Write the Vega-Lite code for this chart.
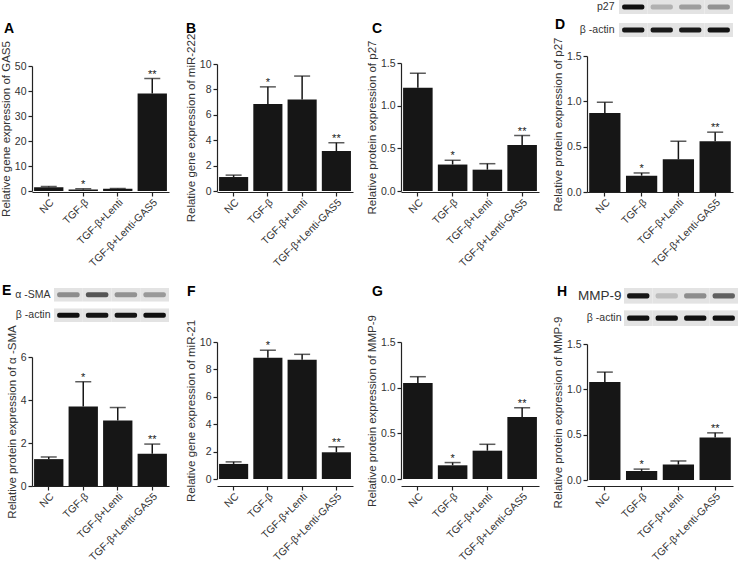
{
  "$schema": "https://vega.github.io/schema/vega-lite/v6.json",
  "padding": 0,
  "datasets": {
    "A": [
      {"g": "NC", "m": 1.5, "u": 1.8, "s": ""},
      {"g": "TGF-β", "m": 0.6, "u": 0.9, "s": "*"},
      {"g": "TGF-β+Lenti", "m": 0.9, "u": 1.0, "s": ""},
      {"g": "TGF-β+Lenti-GAS5", "m": 39, "u": 45, "s": "**"}
    ],
    "B": [
      {"g": "NC", "m": 1.1, "u": 1.25, "s": ""},
      {"g": "TGF-β", "m": 6.85, "u": 8.2, "s": "*"},
      {"g": "TGF-β+Lenti", "m": 7.2, "u": 9.05, "s": ""},
      {"g": "TGF-β+Lenti-GAS5", "m": 3.15, "u": 3.8, "s": "**"}
    ],
    "C": [
      {"g": "NC", "m": 1.21, "u": 1.38, "s": ""},
      {"g": "TGF-β", "m": 0.31, "u": 0.36, "s": "*"},
      {"g": "TGF-β+Lenti", "m": 0.25, "u": 0.32, "s": ""},
      {"g": "TGF-β+Lenti-GAS5", "m": 0.54, "u": 0.65, "s": "**"}
    ],
    "D": [
      {"g": "NC", "m": 0.87, "u": 0.99, "s": ""},
      {"g": "TGF-β", "m": 0.18, "u": 0.21, "s": "*"},
      {"g": "TGF-β+Lenti", "m": 0.36, "u": 0.56, "s": ""},
      {"g": "TGF-β+Lenti-GAS5", "m": 0.56, "u": 0.66, "s": "**"}
    ],
    "E": [
      {"g": "NC", "m": 1.25, "u": 1.35, "s": ""},
      {"g": "TGF-β", "m": 3.7, "u": 4.85, "s": "*"},
      {"g": "TGF-β+Lenti", "m": 3.05, "u": 3.65, "s": ""},
      {"g": "TGF-β+Lenti-GAS5", "m": 1.5, "u": 1.95, "s": "**"}
    ],
    "F": [
      {"g": "NC", "m": 1.1, "u": 1.25, "s": ""},
      {"g": "TGF-β", "m": 8.85, "u": 9.4, "s": "*"},
      {"g": "TGF-β+Lenti", "m": 8.7, "u": 9.1, "s": ""},
      {"g": "TGF-β+Lenti-GAS5", "m": 1.95, "u": 2.35, "s": "**"}
    ],
    "G": [
      {"g": "NC", "m": 1.05, "u": 1.12, "s": ""},
      {"g": "TGF-β", "m": 0.15, "u": 0.18, "s": "*"},
      {"g": "TGF-β+Lenti", "m": 0.31, "u": 0.38, "s": ""},
      {"g": "TGF-β+Lenti-GAS5", "m": 0.68, "u": 0.78, "s": "**"}
    ],
    "H": [
      {"g": "NC", "m": 1.08, "u": 1.19, "s": ""},
      {"g": "TGF-β", "m": 0.1, "u": 0.12, "s": "*"},
      {"g": "TGF-β+Lenti", "m": 0.17, "u": 0.21, "s": ""},
      {"g": "TGF-β+Lenti-GAS5", "m": 0.47, "u": 0.52, "s": "**"}
    ],
    "blotD": [
      {"row": "p27", "lane": "NC", "v": 0.95},
      {"row": "p27", "lane": "TGF-β", "v": 0.2},
      {"row": "p27", "lane": "TGF-β+Lenti", "v": 0.28},
      {"row": "p27", "lane": "TGF-β+Lenti-GAS5", "v": 0.33},
      {"row": "β -actin", "lane": "NC", "v": 0.92},
      {"row": "β -actin", "lane": "TGF-β", "v": 0.9},
      {"row": "β -actin", "lane": "TGF-β+Lenti", "v": 0.9},
      {"row": "β -actin", "lane": "TGF-β+Lenti-GAS5", "v": 0.93}
    ],
    "blotE": [
      {"row": "α -SMA", "lane": "NC", "v": 0.35},
      {"row": "α -SMA", "lane": "TGF-β", "v": 0.6},
      {"row": "α -SMA", "lane": "TGF-β+Lenti", "v": 0.33},
      {"row": "α -SMA", "lane": "TGF-β+Lenti-GAS5", "v": 0.3},
      {"row": "β -actin", "lane": "NC", "v": 0.95},
      {"row": "β -actin", "lane": "TGF-β", "v": 0.93},
      {"row": "β -actin", "lane": "TGF-β+Lenti", "v": 0.93},
      {"row": "β -actin", "lane": "TGF-β+Lenti-GAS5", "v": 0.95}
    ],
    "blotH": [
      {"row": "MMP-9", "lane": "NC", "v": 0.92},
      {"row": "MMP-9", "lane": "TGF-β", "v": 0.15},
      {"row": "MMP-9", "lane": "TGF-β+Lenti", "v": 0.35},
      {"row": "MMP-9", "lane": "TGF-β+Lenti-GAS5", "v": 0.55},
      {"row": "β -actin", "lane": "NC", "v": 0.95},
      {"row": "β -actin", "lane": "TGF-β", "v": 0.95},
      {"row": "β -actin", "lane": "TGF-β+Lenti", "v": 0.95},
      {"row": "β -actin", "lane": "TGF-β+Lenti-GAS5", "v": 0.95}
    ]
  },
  "concat": [
    {"width": 137, "height": 56, "title": {"text": "A", "dx": -28, "offset": -36}, "data": {"values": []}, "mark": "point"},
    {"width": 136, "height": 56, "title": {"text": "B", "dx": -31, "offset": -36}, "data": {"values": []}, "mark": "point"},
    {"width": 138, "height": 56, "title": {"text": "C", "dx": -29, "offset": -36}, "data": {"values": []}, "mark": "point"},
    {
      "width": 146, "height": 56,
      "title": {"text": "D", "dx": -32, "offset": -32},
      "data": {"name": "blotD"},
      "encoding": {
        "x": {"field": "lane", "type": "nominal", "sort": null, "scale": {"range": [32, 146], "paddingInner": 0, "paddingOuter": 0}, "axis": null},
        "y": {"field": "row", "type": "nominal", "sort": null, "scale": {"range": [0, 37], "paddingInner": 0.39, "paddingOuter": 0}, "axis": {"title": null, "domain": false, "ticks": false, "offset": -32, "labelPadding": 5, "labelFontSize": 10.5, "labelColor": "#333"}}
      },
      "layer": [
        {"mark": {"type": "rect", "color": "#e3e3e3"}},
        {"mark": {"type": "bar", "width": {"band": 0.78}, "height": {"band": 0.36}, "cornerRadius": 2}, "encoding": {"color": {"field": "v", "type": "quantitative", "scale": {"domain": [0, 1], "range": ["#e3e3e3", "#000000"]}, "legend": null}}}
      ]
    },
    {
      "width": 137, "height": 136,
      "data": {"name": "A"},
      "encoding": {
        "x": {"field": "g", "type": "nominal", "sort": null, "scale": {"paddingInner": 0.15, "paddingOuter": 0.06}},
        "y": {"field": "m", "type": "quantitative", "scale": {"domain": [0, 50], "nice": false, "range": [135, 10]}, "axis": {"tickCount": 5, "format": "d", "labelOverlap": false, "title": "Relative gene expression of GAS5"}}
      },
      "layer": [
        {"mark": {"type": "bar", "color": "#161616"}},
        {"mark": {"type": "rule", "color": "#161616", "strokeWidth": 1.5}, "encoding": {"y2": {"field": "u"}}},
        {"mark": {"type": "tick", "color": "#161616", "size": 16, "thickness": 1.5, "orient": "horizontal"}, "encoding": {"y": {"field": "u", "type": "quantitative"}}},
        {"mark": {"type": "text", "fontSize": 11, "baseline": "alphabetic", "dy": -1, "color": "#161616"}, "encoding": {"y": {"field": "u", "type": "quantitative"}, "text": {"field": "s"}}}
      ]
    },
    {
      "width": 136, "height": 136,
      "data": {"name": "B"},
      "encoding": {
        "x": {"field": "g", "type": "nominal", "sort": null, "scale": {"paddingInner": 0.15, "paddingOuter": 0.06}},
        "y": {"field": "m", "type": "quantitative", "scale": {"domain": [0, 10], "nice": false, "range": [135, 8]}, "axis": {"tickCount": 5, "format": "d", "labelOverlap": false, "title": "Relative gene expression of miR-222"}}
      },
      "layer": [
        {"mark": {"type": "bar", "color": "#161616"}},
        {"mark": {"type": "rule", "color": "#161616", "strokeWidth": 1.5}, "encoding": {"y2": {"field": "u"}}},
        {"mark": {"type": "tick", "color": "#161616", "size": 16, "thickness": 1.5, "orient": "horizontal"}, "encoding": {"y": {"field": "u", "type": "quantitative"}}},
        {"mark": {"type": "text", "fontSize": 11, "baseline": "alphabetic", "dy": -1, "color": "#161616"}, "encoding": {"y": {"field": "u", "type": "quantitative"}, "text": {"field": "s"}}}
      ]
    },
    {
      "width": 138, "height": 136,
      "data": {"name": "C"},
      "encoding": {
        "x": {"field": "g", "type": "nominal", "sort": null, "scale": {"paddingInner": 0.15, "paddingOuter": 0.06}},
        "y": {"field": "m", "type": "quantitative", "scale": {"domain": [0, 1.5], "nice": false, "range": [135, 7]}, "axis": {"values": [0, 0.5, 1, 1.5], "tickCount": 4, "format": ".1f", "labelOverlap": false, "title": "Relative protein expression of p27"}}
      },
      "layer": [
        {"mark": {"type": "bar", "color": "#161616"}},
        {"mark": {"type": "rule", "color": "#161616", "strokeWidth": 1.5}, "encoding": {"y2": {"field": "u"}}},
        {"mark": {"type": "tick", "color": "#161616", "size": 16, "thickness": 1.5, "orient": "horizontal"}, "encoding": {"y": {"field": "u", "type": "quantitative"}}},
        {"mark": {"type": "text", "fontSize": 11, "baseline": "alphabetic", "dy": -1, "color": "#161616"}, "encoding": {"y": {"field": "u", "type": "quantitative"}, "text": {"field": "s"}}}
      ]
    },
    {
      "width": 146, "height": 136,
      "data": {"name": "D"},
      "encoding": {
        "x": {"field": "g", "type": "nominal", "sort": null, "scale": {"paddingInner": 0.15, "paddingOuter": 0.06}},
        "y": {"field": "m", "type": "quantitative", "scale": {"domain": [0, 1.5], "nice": false}, "axis": {"values": [0, 0.5, 1, 1.5], "tickCount": 4, "format": ".1f", "labelOverlap": false, "title": "Relative protein expression of p27"}}
      },
      "layer": [
        {"mark": {"type": "bar", "color": "#161616"}},
        {"mark": {"type": "rule", "color": "#161616", "strokeWidth": 1.5}, "encoding": {"y2": {"field": "u"}}},
        {"mark": {"type": "tick", "color": "#161616", "size": 16, "thickness": 1.5, "orient": "horizontal"}, "encoding": {"y": {"field": "u", "type": "quantitative"}}},
        {"mark": {"type": "text", "fontSize": 11, "baseline": "alphabetic", "dy": -1, "color": "#161616"}, "encoding": {"y": {"field": "u", "type": "quantitative"}, "text": {"field": "s"}}}
      ]
    },
    {
      "width": 137, "height": 150,
      "title": {"text": "E", "dx": -30, "offset": -106},
      "data": {"name": "blotE"},
      "encoding": {
        "x": {"field": "lane", "type": "nominal", "sort": null, "scale": {"range": [22, 137], "paddingInner": 0, "paddingOuter": 0}, "axis": null},
        "y": {"field": "row", "type": "nominal", "sort": null, "scale": {"range": [96, 130], "paddingInner": 0.34, "paddingOuter": 0}, "axis": {"title": null, "domain": false, "ticks": false, "offset": -22, "labelPadding": 4, "labelFontSize": 10.5, "labelColor": "#333"}}
      },
      "layer": [
        {"mark": {"type": "rect", "color": "#e3e3e3"}},
        {"mark": {"type": "bar", "width": {"band": 0.78}, "height": {"band": 0.36}, "cornerRadius": 2}, "encoding": {"color": {"field": "v", "type": "quantitative", "scale": {"domain": [0, 1], "range": ["#e3e3e3", "#000000"]}, "legend": null}}}
      ]
    },
    {"width": 136, "height": 150, "title": {"text": "F", "dx": -30, "offset": -107}, "data": {"values": []}, "mark": "point"},
    {"width": 138, "height": 150, "title": {"text": "G", "dx": -29, "offset": -107}, "data": {"values": []}, "mark": "point"},
    {
      "width": 146, "height": 150,
      "title": {"text": "H", "dx": -30, "offset": -107},
      "data": {"name": "blotH"},
      "encoding": {
        "x": {"field": "lane", "type": "nominal", "sort": null, "scale": {"range": [37, 151], "paddingInner": 0, "paddingOuter": 0}, "axis": null},
        "y": {"field": "row", "type": "nominal", "sort": null, "scale": {"range": [96, 134], "paddingInner": 0.3, "paddingOuter": 0}, "axis": {"title": null, "domain": false, "ticks": false, "offset": -37, "labelPadding": 3, "labelFontSize": {"condition": {"test": "datum.value === 'MMP-9'", "value": 13.5}, "value": 10.5}, "labelColor": "#333"}}
      },
      "layer": [
        {"mark": {"type": "rect", "color": "#e3e3e3"}},
        {"mark": {"type": "bar", "width": {"band": 0.78}, "height": {"band": 0.33}, "cornerRadius": 2}, "encoding": {"color": {"field": "v", "type": "quantitative", "scale": {"domain": [0, 1], "range": ["#e3e3e3", "#000000"]}, "legend": null}}}
      ]
    },
    {
      "width": 137, "height": 144,
      "data": {"name": "E"},
      "encoding": {
        "x": {"field": "g", "type": "nominal", "sort": null, "scale": {"paddingInner": 0.15, "paddingOuter": 0.06}},
        "y": {"field": "m", "type": "quantitative", "scale": {"domain": [0, 6], "nice": false, "range": [144, 15]}, "axis": {"values": [0, 2, 4, 6], "tickCount": 4, "format": "d", "labelOverlap": false, "title": "Relative protein expression of α -SMA"}}
      },
      "layer": [
        {"mark": {"type": "bar", "color": "#161616"}},
        {"mark": {"type": "rule", "color": "#161616", "strokeWidth": 1.5}, "encoding": {"y2": {"field": "u"}}},
        {"mark": {"type": "tick", "color": "#161616", "size": 16, "thickness": 1.5, "orient": "horizontal"}, "encoding": {"y": {"field": "u", "type": "quantitative"}}},
        {"mark": {"type": "text", "fontSize": 11, "baseline": "alphabetic", "dy": -1, "color": "#161616"}, "encoding": {"y": {"field": "u", "type": "quantitative"}, "text": {"field": "s"}}}
      ]
    },
    {
      "width": 136, "height": 144,
      "data": {"name": "F"},
      "encoding": {
        "x": {"field": "g", "type": "nominal", "sort": null, "scale": {"paddingInner": 0.15, "paddingOuter": 0.06}},
        "y": {"field": "m", "type": "quantitative", "scale": {"domain": [0, 10], "nice": false, "range": [137, 0]}, "axis": {"tickCount": 5, "format": "d", "labelOverlap": false, "title": "Relative gene expression of miR-21"}}
      },
      "layer": [
        {"mark": {"type": "bar", "color": "#161616"}},
        {"mark": {"type": "rule", "color": "#161616", "strokeWidth": 1.5}, "encoding": {"y2": {"field": "u"}}},
        {"mark": {"type": "tick", "color": "#161616", "size": 16, "thickness": 1.5, "orient": "horizontal"}, "encoding": {"y": {"field": "u", "type": "quantitative"}}},
        {"mark": {"type": "text", "fontSize": 11, "baseline": "alphabetic", "dy": -1, "color": "#161616"}, "encoding": {"y": {"field": "u", "type": "quantitative"}, "text": {"field": "s"}}}
      ]
    },
    {
      "width": 138, "height": 144,
      "data": {"name": "G"},
      "encoding": {
        "x": {"field": "g", "type": "nominal", "sort": null, "scale": {"paddingInner": 0.15, "paddingOuter": 0.06}},
        "y": {"field": "m", "type": "quantitative", "scale": {"domain": [0, 1.5], "nice": false, "range": [137, 0]}, "axis": {"values": [0, 0.5, 1, 1.5], "tickCount": 4, "format": ".1f", "labelOverlap": false, "title": "Relative protein expression of MMP-9"}}
      },
      "layer": [
        {"mark": {"type": "bar", "color": "#161616"}},
        {"mark": {"type": "rule", "color": "#161616", "strokeWidth": 1.5}, "encoding": {"y2": {"field": "u"}}},
        {"mark": {"type": "tick", "color": "#161616", "size": 16, "thickness": 1.5, "orient": "horizontal"}, "encoding": {"y": {"field": "u", "type": "quantitative"}}},
        {"mark": {"type": "text", "fontSize": 11, "baseline": "alphabetic", "dy": -1, "color": "#161616"}, "encoding": {"y": {"field": "u", "type": "quantitative"}, "text": {"field": "s"}}}
      ]
    },
    {
      "width": 146, "height": 144,
      "data": {"name": "H"},
      "encoding": {
        "x": {"field": "g", "type": "nominal", "sort": null, "scale": {"paddingInner": 0.15, "paddingOuter": 0.06}},
        "y": {"field": "m", "type": "quantitative", "scale": {"domain": [0, 1.5], "nice": false, "range": [138, 2]}, "axis": {"values": [0, 0.5, 1, 1.5], "tickCount": 4, "format": ".1f", "labelOverlap": false, "title": "Relative protein expression of MMP-9"}}
      },
      "layer": [
        {"mark": {"type": "bar", "color": "#161616"}},
        {"mark": {"type": "rule", "color": "#161616", "strokeWidth": 1.5}, "encoding": {"y2": {"field": "u"}}},
        {"mark": {"type": "tick", "color": "#161616", "size": 16, "thickness": 1.5, "orient": "horizontal"}, "encoding": {"y": {"field": "u", "type": "quantitative"}}},
        {"mark": {"type": "text", "fontSize": 11, "baseline": "alphabetic", "dy": -1, "color": "#161616"}, "encoding": {"y": {"field": "u", "type": "quantitative"}, "text": {"field": "s"}}}
      ]
    }
  ],
  "columns": 4,
  "bounds": "flush",
  "align": "each",
  "spacing": {"row": 0, "column": 48},
  "config": {
    "font": "Liberation Sans",
    "view": {"stroke": null},
    "axis": {"domainColor": "#222", "tickColor": "#222", "labelColor": "#333", "titleColor": "#333", "labelFontSize": 10.5, "titleFontSize": 11.5, "titleFontWeight": "normal", "grid": false, "tickSize": 4, "domainWidth": 1.2, "tickWidth": 1.2, "labelOverlap": false},
    "axisX": {"labelAngle": -45, "labelAlign": "right", "labelBaseline": "top", "labelPadding": 1, "title": null, "labelFontSize": 10.5},
    "axisY": {"titlePadding": 3, "labelPadding": 2, "labelOverlap": false},
    "title": {"fontSize": 14, "fontWeight": "bold", "anchor": "start", "frame": "group", "baseline": "alphabetic", "color": "#000"}
  }
}
